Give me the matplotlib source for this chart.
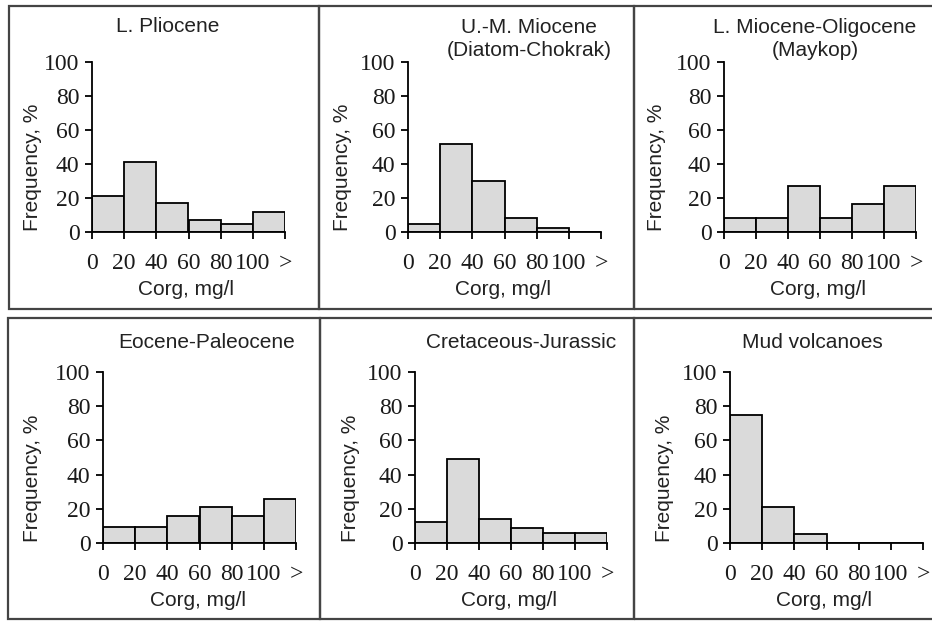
import matplotlib.pyplot as plt
from matplotlib.patches import Rectangle

# Частоты (%) по интервалам Corg: 0-20, 20-40, 40-60, 60-80, 80-100, >100
titles = ['L. Pliocene', 'U.-M. Miocene\n(Diatom-Chokrak)', 'L. Miocene-Oligocene\n(Maykop)',
          'Eocene-Paleocene', 'Cretaceous-Jurassic', 'Mud volcanoes']
pliocene = [21, 41, 17, 7, 4.5, 11.5]
miocene = [5, 52, 30, 8, 2.5, 0]
maykop = [8.5, 8.5, 27, 8.5, 16.5, 27]
eocene = [9.5, 9.5, 15.5, 21, 15.5, 26]
jurassic = [12, 49, 14, 9, 6, 6]
mud = [75, 21, 5, 0, 0, 0]
series = [pliocene, miocene, maykop, eocene, jurassic, mud]
tick_labels = ['0', '20', '40', '60', '80', '100', '>']
yticks = [0, 20, 40, 60, 80, 100]

W, H = 932, 621
fig = plt.figure(figsize=(W / 100, H / 100), dpi=100)

SANS = 'Liberation Sans'
SERIF = 'Liberation Serif'

# пиксельные рамки осей: (лево, право, верх, низ)
axes_px = [(92, 285, 62, 232), (408, 601, 62, 232), (724, 916, 62, 232),
           (103, 296, 372, 543), (415, 607, 372, 543), (730, 923, 372, 543)]
title_px = [(168, 27), (529, 39), (815, 39), (207, 343), (521, 343), (812, 343)]
ylab_x = [32, 343, 657, 33, 350, 664]


def fx(x):
    return x / W


def fy(y):
    return 1 - y / H


for i, (vals, (l, r, t, b)) in enumerate(zip(series, axes_px)):
    ax = fig.add_axes([fx(l), fy(b), (r - l) / W, (b - t) / H])
    ax.bar(range(6), vals, width=1.0, align='edge', color='#dadada',
           edgecolor='black', linewidth=1.3, zorder=2)
    ax.set_xlim(0, 6)
    ax.set_ylim(0, 100)
    ax.patch.set_visible(False)
    for s in ['top', 'right']:
        ax.spines[s].set_visible(False)
    for s in ['left', 'bottom']:
        ax.spines[s].set_linewidth(1.3)
        ax.spines[s].set_zorder(3)
    ax.set_xticks(range(7))
    ax.set_xticklabels(tick_labels)
    ax.set_yticks(yticks)
    ax.tick_params(direction='out', length=5, width=1.3, labelsize=17)
    ax.tick_params(axis='x', pad=10)
    ax.tick_params(axis='y', pad=4)
    for lab in ax.get_xticklabels() + ax.get_yticklabels():
        lab.set_fontfamily(SERIF)
        lab.set_color('#1a1a1a')

    tx, ty = title_px[i]
    fig.text(fx(tx), fy(ty), titles[i], ha='center', va='center',
             fontsize=15, fontfamily=SANS, color='#222222', linespacing=1.25)
    fig.text(fx(ylab_x[i]), fy(t + (b - t) * 0.62), 'Frequency, %', rotation=90,
             ha='center', va='center', fontsize=15, fontfamily=SANS, color='#222222')
    fig.text(fx((l + r) / 2 - 2), fy(b + 57), 'Corg, mg/l', ha='center', va='center',
             fontsize=15, fontfamily=SANS, color='#222222')

# рамки панелей
box_kw = dict(fill=False, edgecolor='#444444', linewidth=1.6, transform=None)
for x0, x1, y0, y1 in [(9, 319, 6, 309), (319, 634, 6, 309), (634, 940, 6, 309),
                       (8, 320, 318, 619), (320, 634, 318, 619), (634, 940, 318, 619)]:
    fig.add_artist(Rectangle((x0, H - y1), x1 - x0, y1 - y0, **box_kw))

plt.savefig('out.png', dpi=100)
